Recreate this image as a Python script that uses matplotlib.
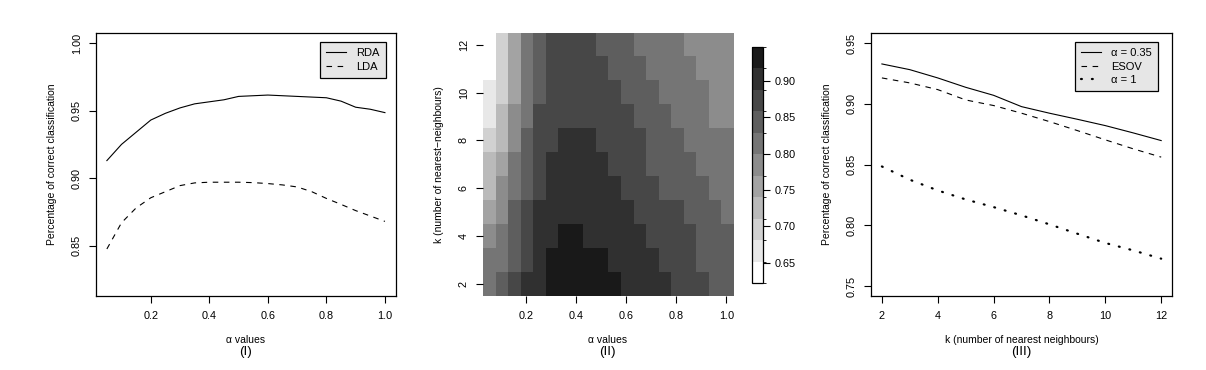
import numpy as np
import matplotlib
matplotlib.use("Agg")
import matplotlib.pyplot as plt
from matplotlib.colors import ListedColormap, BoundaryNorm

plt.rcParams['font.family'] = ['Liberation Sans', 'DejaVu Sans']
plt.rcParams['font.size'] = 7.8

# panel (I): accuracy vs alpha
alpha = [0.05, 0.10, 0.15, 0.20, 0.25, 0.30, 0.35, 0.40, 0.45, 0.50,
         0.55, 0.60, 0.65, 0.70, 0.75, 0.80, 0.85, 0.90, 0.95, 1.00]
rda = [0.913, 0.925, 0.934, 0.943, 0.948, 0.952, 0.955, 0.9565, 0.958, 0.9605,
       0.961, 0.9615, 0.961, 0.9605, 0.960, 0.9595, 0.957, 0.9525, 0.951, 0.9485]
lda = [0.8476, 0.867, 0.878, 0.8855, 0.890, 0.8945, 0.8965, 0.897, 0.897, 0.897,
       0.8967, 0.896, 0.895, 0.8935, 0.890, 0.885, 0.8806, 0.876, 0.872, 0.868]

# panel (II): accuracy grid, rows k = 2..12, columns alpha 0.05..1.0
k_vals = [2, 3, 4, 5, 6, 7, 8, 9, 10, 11, 12]
grid = [
    [0.81, 0.84, 0.87, 0.90, 0.90, 0.93, 0.93, 0.93, 0.93, 0.93, 0.93, 0.90, 0.90, 0.90, 0.90, 0.87, 0.87, 0.87, 0.84, 0.84],
    [0.81, 0.81, 0.84, 0.87, 0.90, 0.93, 0.93, 0.93, 0.93, 0.93, 0.90, 0.90, 0.90, 0.90, 0.87, 0.87, 0.87, 0.84, 0.84, 0.84],
    [0.79, 0.81, 0.84, 0.87, 0.90, 0.90, 0.93, 0.93, 0.90, 0.90, 0.90, 0.90, 0.90, 0.87, 0.87, 0.87, 0.87, 0.84, 0.84, 0.84],
    [0.76, 0.79, 0.84, 0.87, 0.90, 0.90, 0.90, 0.90, 0.90, 0.90, 0.90, 0.90, 0.87, 0.87, 0.87, 0.87, 0.84, 0.84, 0.84, 0.81],
    [0.73, 0.79, 0.81, 0.84, 0.87, 0.90, 0.90, 0.90, 0.90, 0.90, 0.90, 0.87, 0.87, 0.87, 0.84, 0.84, 0.84, 0.84, 0.81, 0.81],
    [0.73, 0.76, 0.81, 0.84, 0.87, 0.90, 0.90, 0.90, 0.90, 0.90, 0.87, 0.87, 0.87, 0.84, 0.84, 0.84, 0.84, 0.81, 0.81, 0.81],
    [0.70, 0.73, 0.79, 0.84, 0.87, 0.87, 0.90, 0.90, 0.90, 0.87, 0.87, 0.87, 0.87, 0.84, 0.84, 0.84, 0.81, 0.81, 0.81, 0.81],
    [0.67, 0.73, 0.79, 0.81, 0.87, 0.87, 0.87, 0.87, 0.87, 0.87, 0.87, 0.87, 0.84, 0.84, 0.84, 0.81, 0.81, 0.81, 0.79, 0.79],
    [0.67, 0.70, 0.76, 0.81, 0.84, 0.87, 0.87, 0.87, 0.87, 0.87, 0.87, 0.84, 0.84, 0.84, 0.81, 0.81, 0.81, 0.81, 0.79, 0.79],
    [0.64, 0.70, 0.76, 0.81, 0.84, 0.87, 0.87, 0.87, 0.87, 0.87, 0.84, 0.84, 0.84, 0.81, 0.81, 0.81, 0.81, 0.79, 0.79, 0.79],
    [0.64, 0.70, 0.76, 0.81, 0.84, 0.87, 0.87, 0.87, 0.87, 0.84, 0.84, 0.84, 0.81, 0.81, 0.81, 0.81, 0.79, 0.79, 0.79, 0.79],
]

# panel (III): accuracy vs k
k_line = [2, 3, 4, 5, 6, 7, 8, 9, 10, 11, 12]
acc_035 = [0.9328, 0.9281, 0.9213, 0.9136, 0.9070, 0.8977, 0.8923, 0.8873, 0.8821, 0.8761, 0.8698]
acc_esov = [0.9213, 0.9172, 0.9117, 0.9032, 0.8986, 0.8923, 0.8854, 0.8780, 0.8704, 0.8630, 0.8562]
acc_1 = [0.8485, 0.8376, 0.8288, 0.8214, 0.8151, 0.8083, 0.8009, 0.7932, 0.7856, 0.7795, 0.7727]

fig = plt.figure(figsize=(12.06, 3.7), dpi=100)

LAB = 7.5
SUB = 9.6

def r_style(ax):
    ax.tick_params(direction='out', length=5, width=0.8)
    ax.tick_params(axis='x', pad=6)
    ax.tick_params(axis='y', pad=5)
    for s in ax.spines.values():
        s.set_linewidth(0.9)
    for lab in ax.get_yticklabels():
        lab.set_rotation(90)
        lab.set_va('center')

def r_labels(ax, xlab, sub, ylab):
    # x label, panel number underneath, y label (positions in pixels from the axes)
    ax.annotate(xlab, xy=(0.5, 0), xycoords='axes fraction', xytext=(0, -44),
                textcoords='offset pixels', ha='center', va='center', fontsize=LAB)
    ax.annotate(sub, xy=(0.5, 0), xycoords='axes fraction', xytext=(0, -56),
                textcoords='offset pixels', ha='center', va='center', fontsize=SUB)
    ax.annotate(ylab, xy=(0, 0.5), xycoords='axes fraction', xytext=(-44, 0),
                textcoords='offset pixels', ha='center', va='center', rotation=90,
                fontsize=LAB)

def r_legend(ax, anchor):
    leg = ax.legend(loc='upper right', bbox_to_anchor=anchor, fancybox=False,
                    edgecolor='black', facecolor='#e6e6e6', framealpha=1, fontsize=8,
                    handlelength=1.8, borderpad=0.55, labelspacing=0.3,
                    handletextpad=0.9, borderaxespad=0)
    leg.get_frame().set_linewidth(0.9)

dash = (0, (5, 5))
dots = (0, (0.4, 4.5))

# ---- (I)
ax1 = fig.add_axes([0.0794, 0.2, 0.249, 0.71])
ax1.plot(alpha, rda, color='black', lw=0.8, label='RDA')
ax1.plot(alpha, lda, color='black', lw=0.8, ls=dash, label='LDA')
ax1.set_xlim(0.012, 1.038)
ax1.set_ylim(0.8128, 1.0072)
ax1.set_xticks([0.2, 0.4, 0.6, 0.8, 1.0])
ax1.set_yticks([0.85, 0.90, 0.95, 1.00])
ax1.set_xticklabels(['0.2', '0.4', '0.6', '0.8', '1.0'])
ax1.set_yticklabels(['0.85', '0.90', '0.95', '1.00'])
r_style(ax1)
r_labels(ax1, 'α values', '(I)', 'Percentage of correct classification')
r_legend(ax1, (0.966, 0.966))

# ---- (II)
ax2 = fig.add_axes([0.4002, 0.2, 0.2073, 0.7116])
breaks = np.linspace(0.622, 0.947, 12)
greys = np.linspace(1.0, 0.1, 11)
cmap = ListedColormap([(g, g, g) for g in greys])
norm = BoundaryNorm(breaks, cmap.N)
da = (alpha[1] - alpha[0]) / 2
im = ax2.imshow(np.array(grid), cmap=cmap, norm=norm, origin='lower', aspect='auto',
                interpolation='nearest',
                extent=[alpha[0] - da, alpha[-1] + da, k_vals[0] - 0.5, k_vals[-1] + 0.5])
for s in ax2.spines.values():
    s.set_visible(False)
ax2.set_xticks([0.2, 0.4, 0.6, 0.8, 1.0])
ax2.set_xticklabels(['0.2', '0.4', '0.6', '0.8', '1.0'])
ax2.set_yticks([2, 4, 6, 8, 10, 12])
ax2.set_yticklabels(['2', '4', '6', '8', '10', '12'])
r_style(ax2)
r_labels(ax2, 'α values', '(II)', 'k (number of nearest−neighbours)')

cax = fig.add_axes([0.6235, 0.2351, 0.0095, 0.6386])
cb = fig.colorbar(im, cax=cax, ticks=[0.65, 0.70, 0.75, 0.80, 0.85, 0.90])
cb.ax.set_yticklabels(['0.65', '0.70', '0.75', '0.80', '0.85', '0.90'])
cb.ax.tick_params(direction='out', length=5, width=0.8, pad=3)
cb.outline.set_linewidth(0.9)

# ---- (III)
ax3 = fig.add_axes([0.722, 0.2, 0.2501, 0.71])
ax3.plot(k_line, acc_035, color='black', lw=0.8, label='α = 0.35')
ax3.plot(k_line, acc_esov, color='black', lw=0.8, ls=dash, label='ESOV')
ax3.plot(k_line, acc_1, color='black', lw=1.6, ls=dots, dash_capstyle='round', label='α = 1')
ax3.set_xlim(1.6, 12.4)
ax3.set_ylim(0.742, 0.958)
ax3.set_xticks([2, 4, 6, 8, 10, 12])
ax3.set_xticklabels(['2', '4', '6', '8', '10', '12'])
ax3.set_yticks([0.75, 0.80, 0.85, 0.90, 0.95])
ax3.set_yticklabels(['0.75', '0.80', '0.85', '0.90', '0.95'])
r_style(ax3)
r_labels(ax3, 'k (number of nearest neighbours)', '(III)', 'Percentage of correct classification')
r_legend(ax3, (0.951, 0.966))

fig.savefig('out.png', dpi=100)
